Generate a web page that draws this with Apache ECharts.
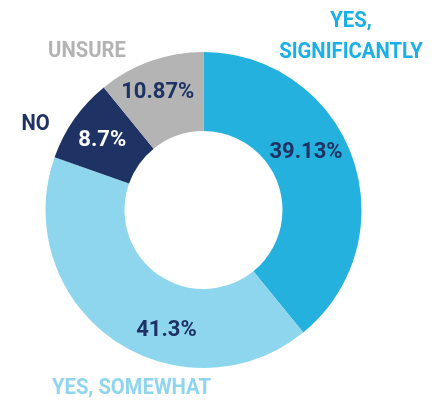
<!DOCTYPE html>
<html>
<head>
<meta charset="utf-8">
<script src="https://cdn.jsdelivr.net/npm/echarts@6/dist/echarts.min.js"></script>
<style>
  html, body { margin: 0; padding: 0; background: #ffffff; }
  #chart { width: 442px; height: 402px; }
</style>
</head>
<body>
<div id="chart"></div>
<script>
// Survey answers, in clockwise order starting from 12 o'clock
const categories = ['YES,\nSIGNIFICANTLY', 'YES, SOMEWHAT', 'NO', 'UNSURE'];
const shares = [39.13, 41.3, 8.7, 10.87];

const sliceColors = ['#25B1DE', '#8ED6EE', '#1E3263', '#B4B4B4'];
const valueLabelColors = ['#1E3263', '#1E3263', '#FFFFFF', '#1E3263'];
const categoryTextColors = ['#1AAFE6', '#8FD5EF', '#1E3263', '#B3B3B3'];

// Nudges of the percentage labels from the ring's mid radius
const valueLabelShift = [[-12, -17], [33, 21], [-2, 1], [-5, -3]];
// Where each category caption sits around the ring
const captionAnchors = [[351, 37], [131.5, 388], [35.5, 124], [87, 51]];

const FONT = 'Roboto, sans-serif';
// The caption face is a narrow grotesque; squeeze the text horizontally
const CAPTION_SQUEEZE = 0.92;

const chart = echarts.init(document.getElementById('chart'), null, { renderer: 'canvas' });

chart.setOption({
  animation: false,
  backgroundColor: '#ffffff',
  series: [{
    type: 'pie',
    center: [203.5, 210],
    radius: [79, 158],
    startAngle: 90,
    clockwise: true,
    silent: true,
    emphasis: { disabled: true },
    labelLine: { show: false },
    label: {
      show: true,
      position: 'inside',
      formatter: p => p.value + '%',
      fontFamily: FONT,
      fontWeight: 'bold',
      fontSize: 22
    },
    labelLayout: p => ({
      dx: valueLabelShift[p.dataIndex][0],
      dy: valueLabelShift[p.dataIndex][1]
    }),
    data: shares.map((v, i) => ({
      name: categories[i],
      value: v,
      itemStyle: { color: sliceColors[i] },
      label: { color: valueLabelColors[i] }
    }))
  }],
  graphic: categories.map((name, i) => ({
    type: 'text',
    x: captionAnchors[i][0],
    y: captionAnchors[i][1],
    scaleX: CAPTION_SQUEEZE,
    silent: true,
    style: {
      text: name,
      fill: categoryTextColors[i],
      fontFamily: FONT,
      fontWeight: 'bold',
      fontSize: 22,
      lineHeight: 31,
      align: 'center',
      verticalAlign: 'middle'
    }
  }))
});
</script>
</body>
</html>
